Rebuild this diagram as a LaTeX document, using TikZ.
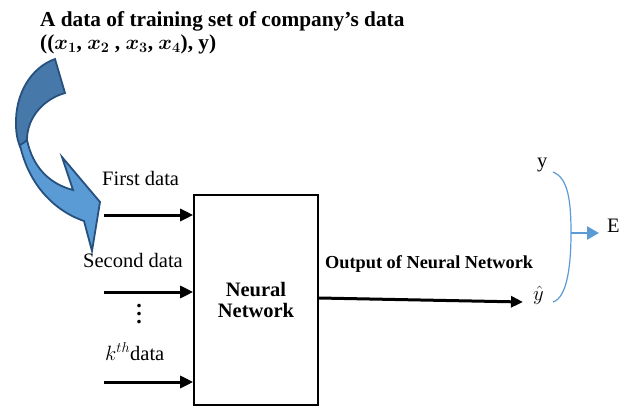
\documentclass[tikz,border=0pt]{standalone}
\usepackage{fontspec}
\usepackage{amsmath,bm}
\setmainfont{Liberation Serif}
\usetikzlibrary{arrows.meta}
\definecolor{bluedark}{RGB}{70,120,170}
\definecolor{bluelight}{RGB}{91,155,213}
\definecolor{blueline}{RGB}{38,80,125}
\definecolor{bracketblue}{RGB}{91,155,213}
\tikzset{
  txt/.style={inner sep=0pt, font=\fontsize{20.5}{21}\selectfont},
  btxt/.style={inner sep=0pt, font=\fontsize{21.3}{23}\selectfont\bfseries},
  dotstxt/.style={inner sep=0pt, align=center, font=\fontsize{22}{8}\selectfont\bfseries},
  inarrow/.style={line width=3pt, -{Triangle[length=13pt,width=12pt]}},
  bluearrow/.style={draw=bracketblue, line width=2.5pt, -{Triangle[length=12pt,width=13pt]}},
  nnbox/.style={draw, line width=1.6pt, minimum width=124pt, minimum height=210pt, inner sep=0pt, align=center, font=\fontsize{20.5}{21}\selectfont\bfseries},
  curvepart/.style={draw=blueline, line width=1.8pt, line join=miter}
}
\begin{document}
\begin{tikzpicture}[x=1pt,y=-1pt]
\useasboundingbox (0,0) rectangle (625,408);

% title
\node[btxt, anchor=base west] (title1) at (40,26)
  {A data of training set of company’s data};
\node[btxt, anchor=base west] (title2) at (40,49)
  {(({\boldmath$x_1$}, {\boldmath$x_2$} , {\boldmath$x_3$}, {\boldmath$x_4$}), y)};

% curved block arrow (dark back part)
\path[curvepart, fill=bluedark]
  (55,59) -- (65,93)
  .. controls (44,99) and (27,117) .. (27,140)
  -- (26,156)
  .. controls (20,150) and (16,138) .. (16,125)
  .. controls (15,95) and (30,68) .. (55,59) -- cycle;
% front part with head
\path[curvepart, fill=bluelight]
  (20,145) .. controls (28,182) and (52,210) .. (84,221)
  -- (92,251) -- (100,202) -- (62,157) -- (73,190)
  .. controls (50,184) and (33,168) .. (27,140)
  .. controls (25,142) and (22,144) .. (20,145) -- cycle;

% neural network box
\node[nnbox] (nn) at (256,300) {Neural\\Network};

% inputs
\node[txt, anchor=base west] (first) at (102,185) {First data};
\node[txt, anchor=base west] (second) at (83,267) {Second data};
\node[txt, anchor=base west] (kth) at (105,360) {$k^{th}$data};
\node[dotstxt, anchor=base] (dots) at (139,323) {.\\.\\.};

\coordinate (i1) at (104,215);
\coordinate (i2) at (104,292);
\coordinate (i3) at (104,382);
\draw[inarrow] (i1) -- (i1 -| nn.west);
\draw[inarrow] (i2) -- (i2 -| nn.west);
\draw[inarrow] (i3) -- (i3 -| nn.west);

% output
\node[inner sep=0pt, font=\fontsize{18.3}{20}\selectfont\bfseries, anchor=base west] (outlbl) at (325,268) {Output of Neural Network};
\coordinate (o2) at (523,302);
\draw[line width=3pt, -{Triangle[length=12pt,width=11pt]}] ([yshift=2pt]nn.east) -- (o2);

\node[txt, anchor=base west] (yhat) at (533,300) {$\hat{y}$};
\node[txt, anchor=base west] (ytop) at (537,167) {y};
\node[txt, anchor=base west] (E) at (607,232) {E};

% bracket
\coordinate (bt) at (553,172);
\coordinate (bm) at (571,233);
\coordinate (bb) at (553,302);
\draw[draw=bracketblue, line width=1.2pt] (bt) .. controls (568,178) and (571,200) .. (bm)
  .. controls (571,270) and (566,298) .. (bb);
\coordinate (e1) at (599,233);
\draw[bluearrow] (bm) -- (e1);
\end{tikzpicture}
\end{document}
